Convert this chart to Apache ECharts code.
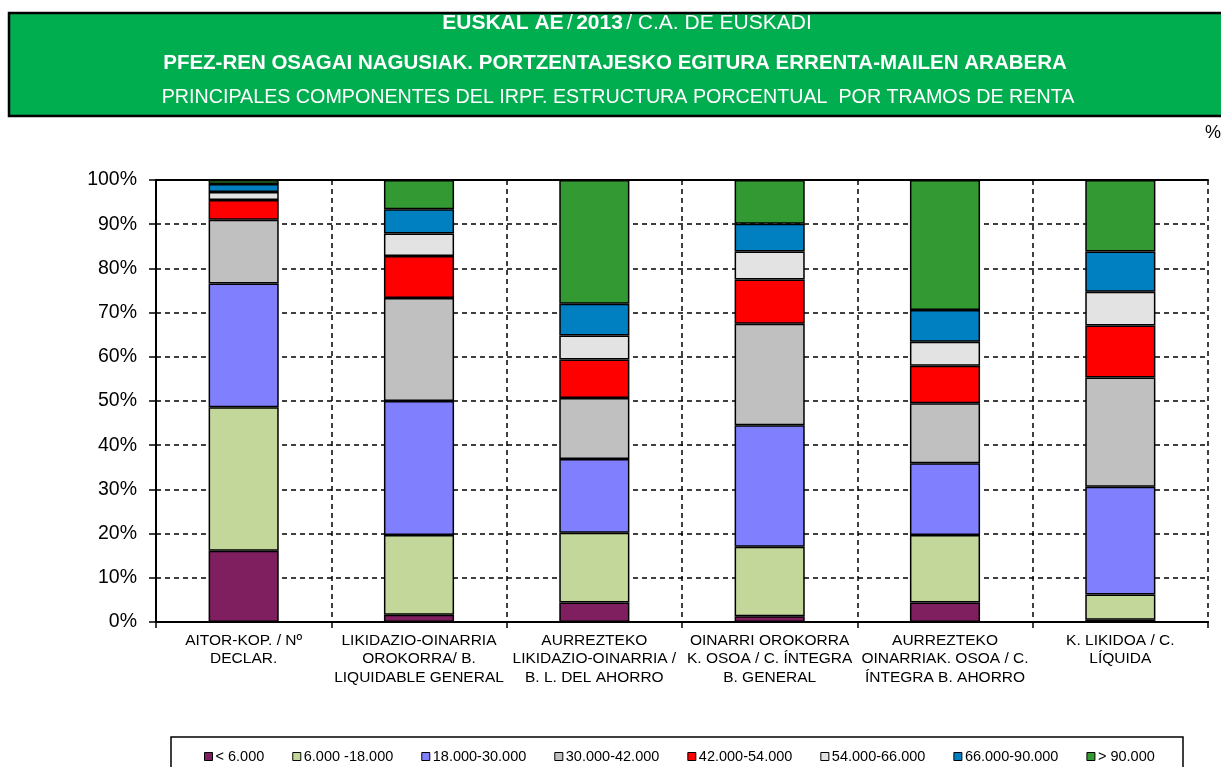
<!DOCTYPE html>
<html>
<head>
<meta charset="utf-8">
<script src="https://cdn.jsdelivr.net/npm/echarts@6/dist/echarts.min.js"></script>
<style>
html,body{margin:0;padding:0;background:#fff;}
#chart{width:1221px;height:767px;}
</style>
</head>
<body>
<div id="chart"></div>
<script>
const categories = [
  "AITOR-KOP. / Nº\nDECLAR.",
  "LIKIDAZIO-OINARRIA\nOROKORRA/ B.\nLIQUIDABLE GENERAL",
  "AURREZTEKO\nLIKIDAZIO-OINARRIA /\nB. L. DEL AHORRO",
  "OINARRI OROKORRA\nK. OSOA / C. ÍNTEGRA\nB. GENERAL",
  "AURREZTEKO\nOINARRIAK. OSOA / C.\nÍNTEGRA B. AHORRO",
  "K. LIKIDOA / C.\nLÍQUIDA"
];
const seriesNames = ["< 6.000", "6.000 -18.000", "18.000-30.000", "30.000-42.000", "42.000-54.000", "54.000-66.000", "66.000-90.000", "> 90.000"];
const s_lt6     = [16.1, 1.65, 4.4, 1.3, 4.4, 0.5];
const s_6_18    = [32.5, 18.05, 15.8, 15.7, 15.3, 5.7];
const s_18_30   = [28.0, 30.3, 16.7, 27.5, 16.2, 24.4];
const s_30_42   = [14.4, 23.3, 13.8, 23.0, 13.6, 24.7];
const s_42_54   = [4.5, 9.5, 8.7, 10.0, 8.5, 11.8];
const s_54_66   = [1.8, 5.1, 5.4, 6.3, 5.4, 7.6];
const s_66_90   = [1.8, 5.5, 7.2, 6.3, 7.2, 9.1];
const s_gt90    = [0.9, 6.6, 28.0, 9.9, 29.4, 16.2];
const yTicks = [0, 10, 20, 30, 40, 50, 60, 70, 80, 90, 100];

const seriesData = [s_lt6, s_6_18, s_18_30, s_30_42, s_42_54, s_54_66, s_66_90, s_gt90];
const colors = ["#7F1F5F", "#C4D79B", "#8080FF", "#C0C0C0", "#FF0000", "#E3E3E3", "#0080C0", "#339933"];

const FONT = "'Liberation Sans', Arial, sans-serif";
const chart = echarts.init(document.getElementById('chart'), null, {renderer: 'canvas'});

const option = {
  animation: false,
  backgroundColor: '#ffffff',
  color: colors,
  textStyle: {fontFamily: FONT, color: '#000'},
  graphic: [
    {type: 'rect', shape: {x: 9, y: 13, width: 1230, height: 103},
     style: {fill: '#00AD4F', stroke: '#000', lineWidth: 2.5}, z: 1},
    {type: 'text', x: 627, y: 23, z: 2,
     style: {text: '{b|EUSKAL AE} {r|/} {b|2013} {r|/ C.A. DE EUSKADI}', align: 'center', verticalAlign: 'middle',
       rich: {b: {fontFamily: FONT, fontWeight: 'bold', fontSize: 21, fill: '#fff', color:'#fff'},
              r: {fontFamily: FONT, fontSize: 21, fill: '#fff', color:'#fff'}}}},
    {type: 'text', x: 615, y: 63, z: 2,
     style: {text: 'PFEZ-REN OSAGAI NAGUSIAK. PORTZENTAJESKO EGITURA ERRENTA-MAILEN ARABERA', align: 'center', verticalAlign: 'middle',
       font: 'bold 20.5px ' + FONT, fill: '#fff'}},
    {type: 'text', x: 618, y: 98, z: 2,
     style: {text: 'PRINCIPALES COMPONENTES DEL IRPF. ESTRUCTURA PORCENTUAL  POR TRAMOS DE RENTA', align: 'center', verticalAlign: 'middle',
       font: '19.7px ' + FONT, fill: '#fff'}},
    {type: 'text', x: 1221, y: 133, z: 2,
     style: {text: '%', align: 'right', verticalAlign: 'middle', font: '18px ' + FONT, fill: '#000'}},
    {type: 'rect', shape: {x: 171, y: 737, width: 1012, height: 40},
     style: {fill: 'none', stroke: '#000', lineWidth: 1.5}, z: 1}
  ],
  legend: {
    left: 199, top: 744,
    itemWidth: 8, itemHeight: 8, itemGap: 28,
    icon: 'rect',
    textStyle: {fontFamily: FONT, fontSize: 14.5, color: '#000', padding: [0, 0, 0, -2]},
    itemStyle: {borderColor: '#000', borderWidth: 1},
    data: seriesNames
  },
  grid: {left: 156, right: 13, top: 180, bottom: 145, containLabel: false},
  xAxis: [{
    type: 'category',
    data: categories,
    boundaryGap: true,
    axisLine: {show: true, lineStyle: {color: '#000', width: 2}},
    axisTick: {show: true, inside: false, length: 6, lineStyle: {color: '#000', width: 1.5}},
    splitLine: {show: true, lineStyle: {color: '#000', type: [5, 4], width: 1.5}},
    axisLabel: {fontFamily: FONT, fontSize: 15.5, color: '#000', lineHeight: 18.5, margin: 9, interval: 0, align: 'center'}
  }, {
    type: 'category',
    position: 'top',
    data: categories,
    axisLine: {show: true, lineStyle: {color: '#000', width: 2}},
    axisTick: {show: false},
    axisLabel: {show: false},
    splitLine: {show: false}
  }],
  yAxis: {
    type: 'value',
    min: yTicks[0], max: yTicks[yTicks.length - 1], interval: 10,
    axisLine: {show: true, lineStyle: {color: '#000', width: 2}},
    axisTick: {show: true, length: 7, lineStyle: {color: '#000', width: 1.5}},
    splitLine: {show: true, lineStyle: {color: '#000', type: [5, 4], width: 1.5}},
    axisLabel: {fontFamily: FONT, fontSize: 19.5, color: '#000', margin: 19, formatter: '{value}%'}
  },
  series: seriesNames.map((name, i) => ({
    name: name,
    type: 'bar',
    stack: 'total',
    barWidth: '40%',
    data: seriesData[i],
    itemStyle: {color: colors[i], borderColor: '#000', borderWidth: 1.5}
  }))
};
chart.setOption(option);
</script>
</body>
</html>
